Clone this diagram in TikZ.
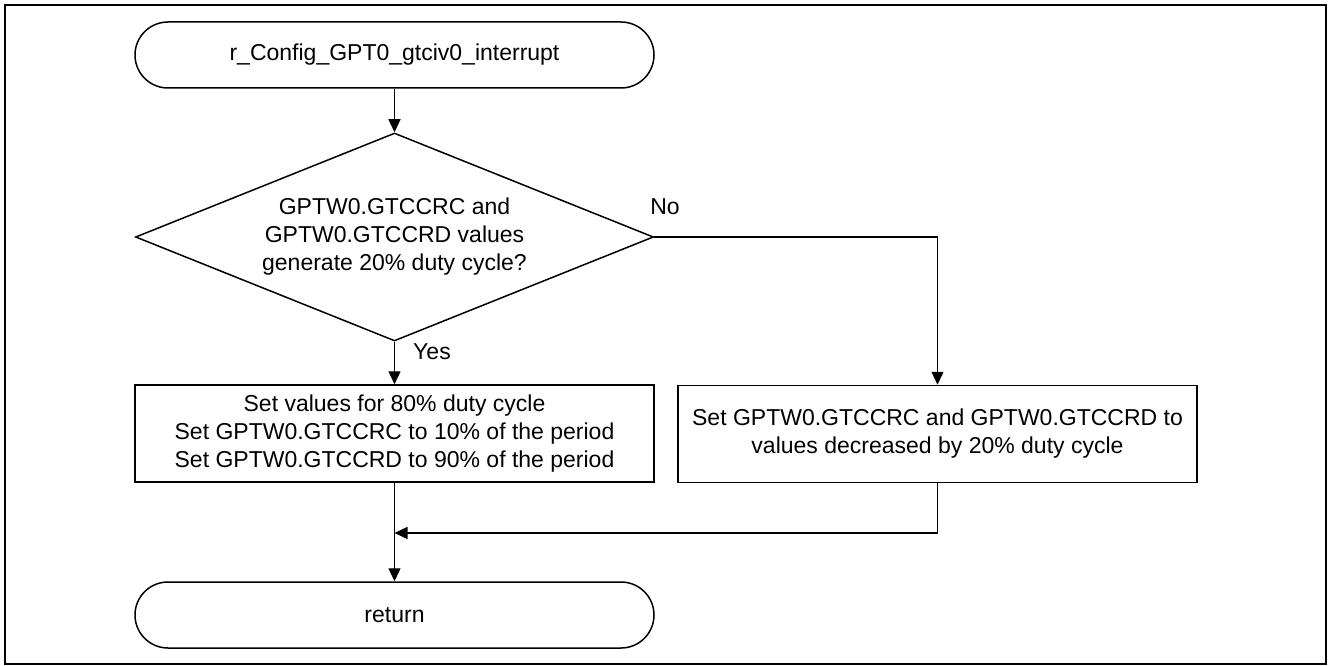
\documentclass[tikz,border=0pt]{standalone}
\usepackage{fontspec}
\setmainfont{Liberation Sans}
\usetikzlibrary{shapes.geometric,shapes.misc,arrows.meta}

\tikzset{
  term/.style={draw, line width=1.5pt, rounded rectangle, minimum width=519pt, minimum height=66pt, inner sep=0pt},
  proc/.style={draw, line width=1.5pt, minimum width=519pt, minimum height=97pt, inner sep=0pt, align=center},
  dec/.style={draw, line width=1.5pt, diamond, shape aspect=2.5, minimum width=518pt, minimum height=208pt, inner sep=0pt, align=center},
  flow/.style={line width=1.3pt, -{Triangle[length=13pt,width=12pt]}}
}

\begin{document}
\begin{tikzpicture}[x=1pt, y=-1pt, every node/.style={font=\fontsize{23}{28}\selectfont}]
  \useasboundingbox (0,0) rectangle (1328,666);
  \draw[line width=2pt] (5,5) rectangle (1326,664);

  % flow nodes
  \node[term] (start) at (394.5,55) {r\_Config\_GPT0\_gtciv0\_interrupt};
  \node[dec]  (chk)   at (394.5,237) {GPTW0.GTCCRC and\\GPTW0.GTCCRD values\\generate 20\% duty cycle?};
  \node[proc] (set80) at (394.5,433.5) {Set values for 80\% duty cycle\\Set GPTW0.GTCCRC to 10\% of the period\\Set GPTW0.GTCCRD to 90\% of the period};
  \node[proc] (dec20) at (937.5,434) {Set GPTW0.GTCCRC and GPTW0.GTCCRD to\\values decreased by 20\% duty cycle};
  \node[term] (ret)   at (394.5,615) {return};
  \coordinate (join) at (394.5,533);

  % branch labels
  \node (yes) at (432,352) {Yes};
  \node (no)  at (665,207) {No};

  % connectors
  \draw[flow] (start.south) -- (chk.north);
  \draw[flow] (chk.south) -- (set80.north);
  \draw[flow] (chk.east) -| (dec20.north);
  \draw[flow] (set80.south) -- (ret.north);
  \draw[flow] (dec20.south) |- (join);
\end{tikzpicture}
\end{document}
